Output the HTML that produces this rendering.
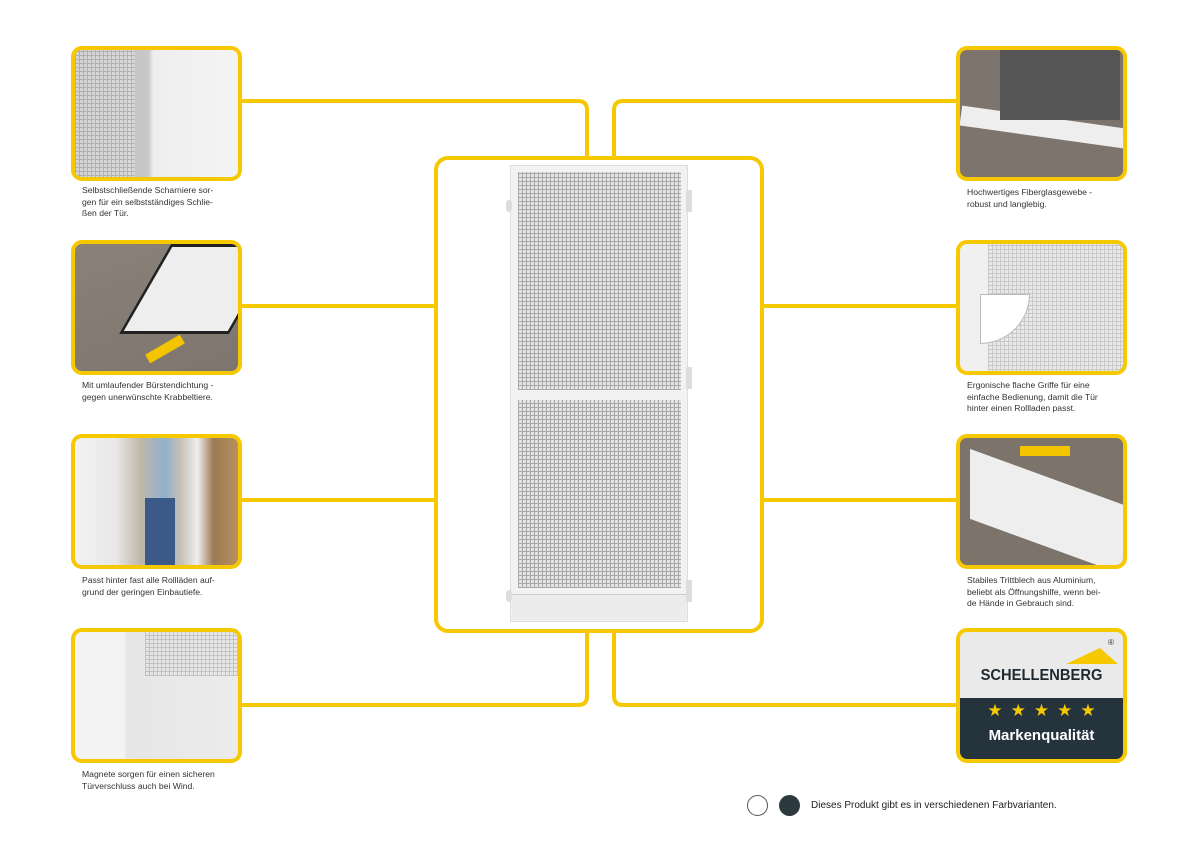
<!DOCTYPE html>
<html><head><meta charset="utf-8"><style>
*{margin:0;padding:0;box-sizing:border-box}
body{width:1200px;height:848px;background:#fff;position:relative;overflow:hidden;font-family:"Liberation Sans",sans-serif}
.b{position:absolute;width:171px;height:135px;border:4px solid #f6c800;border-radius:11px;overflow:hidden}
.c{position:absolute;font-size:8.6px;line-height:11.5px;color:#333;width:175px}
.mesh{background-color:#e4e4e4;background-image:repeating-linear-gradient(90deg,#a8a8a8 0 1px,transparent 1px 4px),repeating-linear-gradient(0deg,#a8a8a8 0 1px,transparent 1px 4px)}
</style></head><body>
<svg width="1200" height="848" style="position:absolute;left:0;top:0">
<g fill="none" stroke="#f6c800" stroke-width="4">
<path d="M242 101 H578 Q587 101 587 110 V159"/>
<path d="M957 101 H623 Q614 101 614 110 V159"/>
<path d="M242 306 H437"/><path d="M242 500 H437"/>
<path d="M957 306 H761"/><path d="M957 500 H761"/>
<path d="M242 705 H578 Q587 705 587 696 V630"/>
<path d="M957 705 H623 Q614 705 614 696 V630"/>
<rect x="436" y="158" width="326" height="473" rx="12"/>
</g></svg>
<!-- door -->
<div style="position:absolute;left:510px;top:165px;width:178px;height:457px;background:#f2f2f2;border:1px solid #ddd"></div>
<div class="mesh" style="position:absolute;left:518px;top:172px;width:163px;height:218px"></div>
<div class="mesh" style="position:absolute;left:518px;top:400px;width:163px;height:188px"></div>
<div style="position:absolute;left:512px;top:594px;width:174px;height:26px;background:#ececec;border-top:1px solid #ccc"></div>
<div style="position:absolute;left:506px;top:200px;width:6px;height:12px;background:#ddd;border-radius:3px"></div>
<div style="position:absolute;left:686px;top:190px;width:6px;height:22px;background:#ddd"></div>
<div style="position:absolute;left:686px;top:367px;width:6px;height:22px;background:#ddd"></div>
<div style="position:absolute;left:506px;top:590px;width:6px;height:12px;background:#ddd;border-radius:3px"></div>
<div style="position:absolute;left:686px;top:580px;width:6px;height:22px;background:#ddd"></div>
<!-- left boxes -->
<div class="b" style="left:71px;top:46px;background:linear-gradient(90deg,#bbb 0,#c8c8c8 45%,#eee 48%,#f4f4f4 100%)"><div class="mesh" style="position:absolute;left:0;top:0;width:60px;height:130px;opacity:.6"></div></div>
<div class="c" style="left:82px;top:185px">Selbstschließende Scharniere sor-<br>gen für ein selbstständiges Schlie-<br>ßen der Tür.</div>
<div class="b" style="left:71px;top:240px;background:linear-gradient(160deg,#8a8178 0,#7e766e 100%)"><div style="position:absolute;left:70px;top:0;width:110px;height:90px;background:#eee;transform:skewX(-30deg);border:3px solid #222"></div><div style="position:absolute;left:70px;top:100px;width:40px;height:10px;background:#f3c400;transform:rotate(-30deg)"></div></div>
<div class="c" style="left:82px;top:380px">Mit umlaufender Bürstendichtung -<br>gegen unerwünschte Krabbeltiere.</div>
<div class="b" style="left:71px;top:434px;background:linear-gradient(90deg,#f2f2f2 0,#e8e8e8 25%,#c0b8aa 40%,#8fb0cc 55%,#c8c0b4 65%,#eee 75%,#9c7a52 85%,#b89060 100%)"><div style="position:absolute;left:70px;top:60px;width:30px;height:80px;background:#3c5a88"></div></div>
<div class="c" style="left:82px;top:575px">Passt hinter fast alle Rollläden auf-<br>grund der geringen Einbautiefe.</div>
<div class="b" style="left:71px;top:628px;background:linear-gradient(90deg,#f3f3f3 0,#f3f3f3 30%,#e6e6e6 32%,#ececec 100%)"><div class="mesh" style="position:absolute;left:70px;top:0;width:100px;height:44px;opacity:.6"></div></div>
<div class="c" style="left:82px;top:769px">Magnete sorgen für einen sicheren<br>Türverschluss auch bei Wind.</div>
<!-- right boxes -->
<div class="b" style="left:956px;top:46px;background:#7d756d"><div style="position:absolute;left:0;top:68px;width:180px;height:20px;background:#eee;transform:rotate(8deg)"></div><div style="position:absolute;left:40px;top:0;width:120px;height:70px;background:#555"></div></div>
<div class="c" style="left:967px;top:187px">Hochwertiges Fiberglasgewebe -<br>robust und langlebig.</div>
<div class="b" style="left:956px;top:240px;background:#f0f0f0"><div class="mesh" style="position:absolute;left:28px;top:0;width:150px;height:130px;opacity:.55"></div><div style="position:absolute;left:20px;top:50px;width:50px;height:50px;background:#fff;border-radius:0 0 50px 0;border:1px solid #bbb"></div></div>
<div class="c" style="left:967px;top:380px">Ergonische flache Griffe für eine<br>einfache Bedienung, damit die Tür<br>hinter einen Rollladen passt.</div>
<div class="b" style="left:956px;top:434px;background:#7c746b"><div style="position:absolute;left:10px;top:40px;width:160px;height:70px;background:#eee;transform:skewY(20deg)"></div><div style="position:absolute;left:60px;top:8px;width:50px;height:10px;background:#f3c400"></div></div>
<div class="c" style="left:967px;top:575px">Stabiles Trittblech aus Aluminium,<br>beliebt als Öffnungshilfe, wenn bei-<br>de Hände in Gebrauch sind.</div>
<div class="b" style="left:956px;top:628px;background:#eaeaea">
<div style="position:absolute;left:0;top:66px;width:171px;height:70px;background:#25333d"></div>
<svg width="60" height="20" style="position:absolute;left:100px;top:12px"><polygon points="6,20 40,4 58,20" fill="#f6c800"/></svg>
<div style="position:absolute;left:148px;top:6px;font-size:8px;color:#333">®</div>
<div style="position:absolute;left:0;width:163px;top:35px;text-align:center;font-weight:bold;font-size:16px;color:#1f2a30;transform:scaleX(0.92)">SCHELLENBERG</div>
<div style="position:absolute;left:0;width:163px;top:69px;text-align:center;font-size:17px;color:#f6c800;letter-spacing:8px;padding-left:8px">★★★★★</div>
<div style="position:absolute;left:0;width:163px;top:95px;text-align:center;font-weight:bold;font-size:15px;color:#fff">Markenqualität</div>
</div>
<div style="position:absolute;left:747px;top:795px;width:21px;height:21px;border:1px solid #555;border-radius:50%"></div>
<div style="position:absolute;left:779px;top:795px;width:21px;height:21px;background:#2c3a40;border-radius:50%"></div>
<div style="position:absolute;left:811px;top:800px;font-size:10px;color:#222">Dieses Produkt gibt es in verschiedenen Farbvarianten.</div>
</body></html>
